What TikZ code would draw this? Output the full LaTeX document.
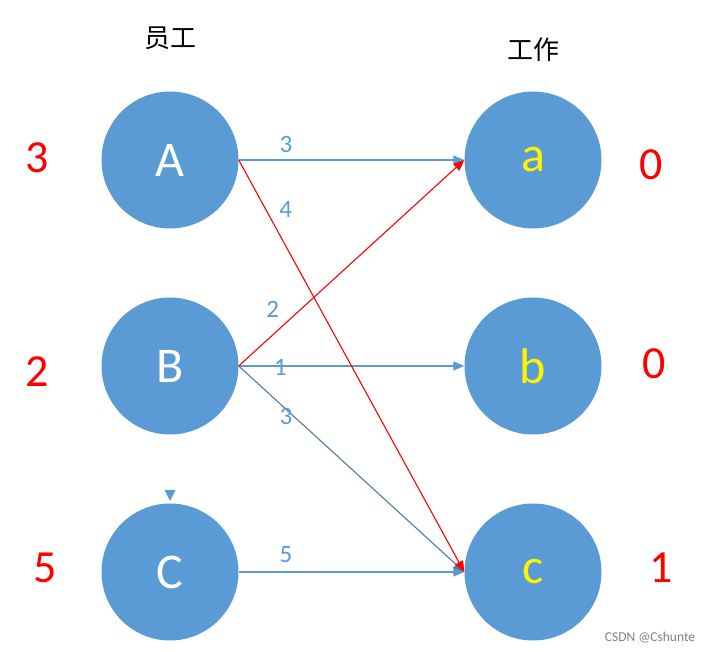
\documentclass[tikz,border=0pt]{standalone}
\usepackage{fontspec}
\setmainfont{Carlito}
\newfontfamily\cjk{Noto Sans CJK SC}
\usetikzlibrary{arrows.meta}
\definecolor{nodeBlue}{HTML}{5B9BD5}
\definecolor{edgeSlate}{HTML}{4F7BA6}
\tikzset{every node/.style={inner sep=0pt},
  worker/.style={circle,fill=nodeBlue,minimum size=137pt,text=white,font=\fontsize{50}{54}\selectfont},
  job/.style={worker,text=yellow},
  weight/.style={text=red,font=\fontsize{46}{50}\selectfont},
  cost/.style={text=nodeBlue,font=\fontsize{25}{28}\selectfont},
  tip/.style={-{Triangle[length=11pt,width=9pt]}}}

\begin{document}
\begin{tikzpicture}[x=1pt,y=-1pt]
  \useasboundingbox (0,0) rectangle (713,652);
  % headers
  \node (HeadWorker) at (170,38) {\cjk\fontsize{26}{28}\selectfont 员工};
  \node (HeadJob)    at (533,50) {\cjk\fontsize{26}{28}\selectfont 工作};
  % vertices
  \node[worker] (A) at (170,160) {A};
  \node[worker] (B) at (170,366) {B};
  \node[worker] (C) at (170,572) {C};
  \node[job]    (a) at (533,160) {a};
  \node[job]    (b) at (533,366) {b};
  \node[job]    (c) at (533,572) {c};
  % labels
  \node[weight] (LA) at (37,158)  {3};
  \node[weight] (LB) at (37,372)  {2};
  \node[weight] (LC) at (45,568)  {5};
  \node[weight] (La) at (651,165) {0};
  \node[weight] (Lb) at (654,364) {0};
  \node[weight] (Lc) at (661,568) {1};
  % edges
  \begin{scope}[tip,line width=1.3pt]
  \draw[nodeBlue] (A.east) -- node[cost,pos=0.21,yshift=16pt] {3} (a.west);
  \draw[nodeBlue] (B.east) -- node[cost,pos=0.185,yshift=-1pt] {1} (b.west);
  \draw[nodeBlue] (C.east) -- node[cost,pos=0.21,yshift=17pt] {5} (c.west);
  \draw[edgeSlate,line width=1.1pt] (B.east) -- node[cost,pos=0.21,yshift=-7pt] {3} (c.west);
  \draw[red,line width=1.1pt] (A.east) -- node[cost,pos=0.12,xshift=20pt] {4} (c.west);
  \draw[red,line width=1.1pt] (B.east) -- node[cost,pos=0.2,xshift=-11pt,yshift=15pt] {2} (a.west);
  \end{scope}
  % stray marker above C
  \coordinate (CMark) at (170,490);
  \fill[nodeBlue] (CMark) ++(-5.5,0) -- ++(11,0) -- (170,501) -- cycle;
  \node[text=gray,font=\fontsize{13.5}{15}\selectfont] (Mark) at (650,638) {CSDN @Cshunte};
\end{tikzpicture}
\end{document}
